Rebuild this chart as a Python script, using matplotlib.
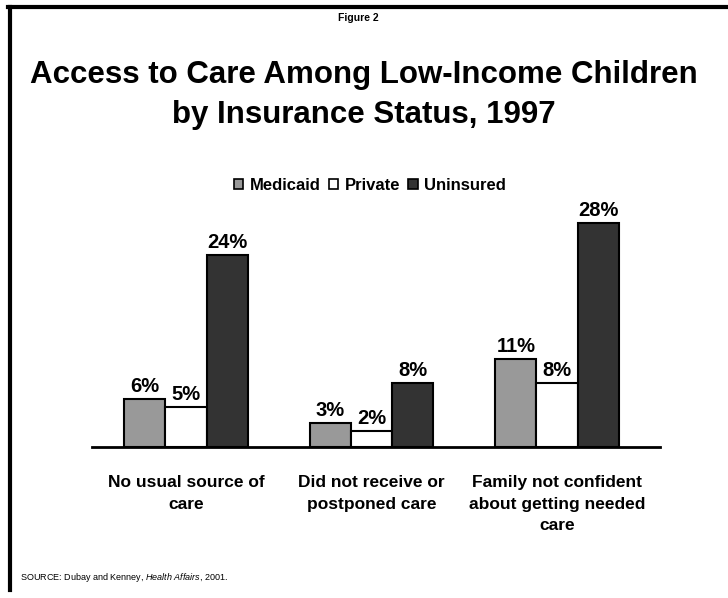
import numpy as np
import matplotlib.pyplot as plt
from matplotlib.lines import Line2D
from matplotlib.patches import Patch

plt.rcParams['font.family'] = ['Liberation Sans', 'DejaVu Sans']
plt.rcParams['mathtext.fontset'] = 'custom'
plt.rcParams['mathtext.rm'] = 'Liberation Sans'
plt.rcParams['mathtext.it'] = 'Liberation Sans:italic'

# --- data ---
categories = ["No usual source of\ncare", "Did not receive or\npostponed care",
              "Family not confident\nabout getting needed\ncare"]
series = ["Medicaid", "Private", "Uninsured"]
medicaid = [6, 3, 11]
private = [5, 2, 8]
uninsured = [24, 8, 28]
colors = ["#999999", "#ffffff", "#333333"]

fig = plt.figure(figsize=(7.28, 5.98), dpi=100)
W, H = 728, 598

# frame lines top and left
fig.add_artist(Line2D([8 / W, 1], [1 - 7 / H, 1 - 7 / H], color='k', lw=3, transform=fig.transFigure))
fig.add_artist(Line2D([9.5 / W, 9.5 / W], [1 - 7 / H, 8 / H], color='k', lw=3, transform=fig.transFigure))

fig.text(358 / W, 1 - 18 / H, "Figure 2", ha='center', va='center', fontsize=7.5, fontweight='bold')
fig.text(364 / W, 1 - 95 / H, "Access to Care Among Low-Income Children\nby Insurance Status, 1997",
         ha='center', va='center', fontsize=22.5, fontweight='bold', linespacing=1.42)

# axes: baseline at y=447px, 8 px per percent
ax = fig.add_axes([92 / W, (H - 447) / H, (660 - 92) / W, 248 / H])
ax.set_ylim(0, 31)
ax.set_xlim(-0.507, 2.555)
for s in ['top', 'right', 'left']:
    ax.spines[s].set_visible(False)
ax.spines['bottom'].set_linewidth(2)
ax.set_yticks([])
ax.set_xticks([])

x = np.arange(len(categories))
w = 0.222
for i, (vals, c) in enumerate(zip([medicaid, private, uninsured], colors)):
    pos = x + (i - 1) * w
    ax.bar(pos, vals, width=w, color=c, edgecolor='k', linewidth=1.5, zorder=2)
    for p, v in zip(pos, vals):
        ax.text(p, v + 0.4, f"{v}%", ha='center', va='bottom', fontsize=14.5, fontweight='bold')

for xi, lab in zip(x, categories):
    ax.text(xi, -3.5, lab, ha='center', va='top', fontsize=12.5, fontweight='bold', linespacing=1.55)

handles = [Patch(facecolor=c, edgecolor='k', linewidth=1.2) for c in colors]
fig.legend(handles, series, loc='center', bbox_to_anchor=(370 / W, 1 - 185 / H), ncol=3,
           frameon=False, prop={'weight': 'bold', 'size': 12}, handlelength=0.55, handleheight=0.55,
           handletextpad=0.4, columnspacing=0.5)

fig.text(20 / W, 1 - 577 / H, "SOURCE: Dubay and Kenney, $\\it{Health\\ Affairs}$, 2001.",
         ha='left', va='center', fontsize=6.5)

fig.savefig("out.png", dpi=100)
